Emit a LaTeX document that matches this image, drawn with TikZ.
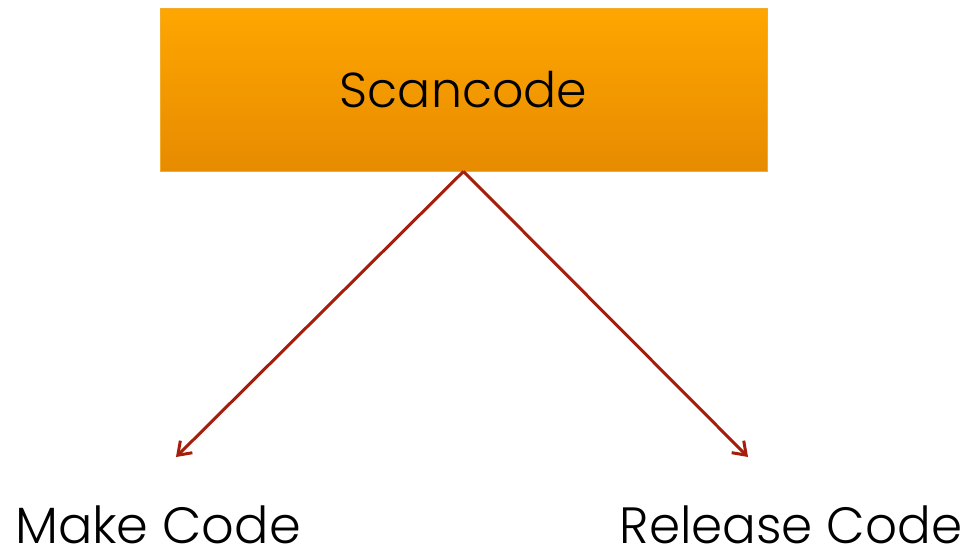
\documentclass[tikz,border=0pt]{standalone}
\usepackage{fontspec}
\setmainfont{Poppins Light}
\usetikzlibrary{arrows.meta}
\usetikzlibrary{positioning}

\definecolor{boxtop}{RGB}{254,166,0}
\definecolor{boxbottom}{RGB}{231,139,0}
\definecolor{boxline}{RGB}{245,170,40}
\definecolor{arrowred}{RGB}{165,30,12}

\tikzset{
  scanbox/.style={rectangle, draw=boxline, line width=0.8pt, top color=boxtop, bottom color=boxbottom,
    minimum width=607pt, minimum height=163pt, inner sep=0pt,
    font=\fontsize{49}{58}\selectfont},
  codelabel/.style={inner sep=0pt, anchor=base, text depth=0pt, font=\fontsize{51}{60}\selectfont},
  flow/.style={draw=arrowred, line width=3pt, -{Straight Barb[length=12pt,width=17pt]}}
}

\begin{document}
\begin{tikzpicture}[x=1pt, y=-1pt]
        \useasboundingbox (0,0) rectangle (965,546);
        % Define nodes
        % source box
        \node[scanbox](scan) at (463.5,89.5){Scancode}; %
        % arrow ends
        \coordinate (tip_make) at (176,457);
        \coordinate (tip_release) at (748,457);
        % targets
        \node[codelabel](make) at (158,543){Make Code}; %
        \node[codelabel, xscale=0.98](release) at (791,543){Release Code}; %

        \draw[flow] (scan.south) -- (tip_make);
        \draw[flow] (scan.south) -- (tip_release);
    \end{tikzpicture}
\end{document}
